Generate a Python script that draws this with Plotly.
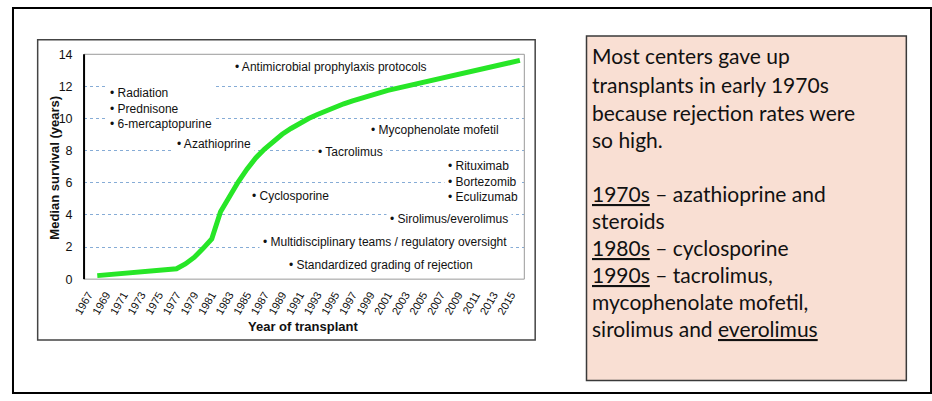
import plotly.graph_objects as go

W, H = 932, 401

years = list(range(1968, 2017))
survival = [0.22, 0.27, 0.31, 0.36, 0.41, 0.46, 0.50, 0.54, 0.58, 0.65, 0.95, 1.35, 1.90, 2.50,
            4.20, 5.15, 6.05, 6.85, 7.55, 8.10, 8.60, 9.02, 9.38, 9.72, 10.00, 10.25, 10.50,
            10.72, 10.92, 11.10, 11.28, 11.45, 11.60, 11.75, 11.88, 12.00, 12.12, 12.25, 12.38,
            12.50, 12.62, 12.75, 12.87, 13.00, 13.12, 13.25, 13.38, 13.50, 13.62]

tick_years = list(range(1967, 2016, 2))
y_ticks = list(range(0, 15, 2))

milestones = [
    ("• Antimicrobial prophylaxis protocols", 323, 62, "center"),
    ("• Radiation<br>• Prednisone<br>• 6-mercaptopurine", 151, 105, "left"),
    ("• Azathioprine", 205, 142, "center"),
    ("• Tacrolimus", 343, 150, "center"),
    ("• Mycophenolate mofetil", 429, 127, "center"),
    ("• Rituximab<br>• Bortezomib<br>• Eculizumab", 477, 181, "left"),
    ("• Cyclosporine", 282, 196, "center"),
    ("• Sirolimus/everolimus", 443, 220, "center"),
    ("• Multidisciplinary teams / regulatory oversight", 378, 244, "center"),
    ("• Standardized grading of rejection", 374, 267, "center"),
]

note_lines = [
    ("Most centers gave up", 50),
    ("transplants in early 1970s", 80),
    ("because rejection rates were", 109),
    ("so high.", 137),
    ("<span style='text-decoration:underline'>1970s</span> – azathioprine and", 193),
    ("steroids", 221),
    ("<span style='text-decoration:underline'>1980s</span> – cyclosporine", 249),
    ("<span style='text-decoration:underline'>1990s</span> – tacrolimus,", 277),
    ("mycophenolate mofetil,", 305),
    ("sirolimus and <span style='text-decoration-line:underline;text-decoration-style:wavy;"
     "text-decoration-color:#d02020'>everolimus</span>", 333),
]

px = lambda x: x / W
py = lambda y: 1 - y / H

PL, PR, PT, PB = 73, 519, 49, 282
ARIAL = "Arial, Liberation Sans, sans-serif"

fig = go.Figure()
fig.add_trace(go.Scatter(x=years, y=survival, mode="lines",
                         line=dict(color="#27e627", width=5), hoverinfo="skip"))

shapes = [
    dict(type="rect", xref="paper", yref="paper", x0=px(1), x1=px(931), y0=py(400), y1=py(1),
         line=dict(color="#000", width=2), layer="below"),
    dict(type="rect", xref="paper", yref="paper", x0=px(26), x1=px(530), y0=py(345), y1=py(34),
         line=dict(color="#444", width=1.5), fillcolor="white", layer="below"),
    dict(type="rect", xref="paper", yref="paper", x0=px(PL), x1=px(PR), y0=py(PB), y1=py(PT),
         line=dict(color="#9a9a9a", width=1), layer="above"),
    dict(type="line", xref="paper", yref="paper", x0=px(PL), x1=px(PL), y0=py(PB), y1=py(PT),
         line=dict(color="#000", width=2), layer="above"),
    dict(type="rect", xref="paper", yref="paper", x0=px(582), x1=px(906), y0=py(387), y1=py(30),
         line=dict(color="#3a3a3a", width=1.5), fillcolor="#f9dfd3", layer="below"),
]

annotations = []
for text, x, y, align in milestones:
    annotations.append(dict(text=text, xref="paper", yref="paper", x=px(x), y=py(y),
                            xanchor="center", yanchor="middle", align=align, showarrow=False,
                            bgcolor="white", borderpad=3,
                            font=dict(family=ARIAL, size=12, color="#111")))
for text, y in note_lines:
    annotations.append(dict(text=text, xref="paper", yref="paper", x=px(586), y=py(y),
                            xanchor="left", yanchor="middle", align="left", showarrow=False,
                            font=dict(family="Lato, sans-serif", size=21, color="#111")))
annotations.append(dict(text="<b>Year of transplant</b>", xref="paper", yref="paper",
                        x=px(295), y=py(331), xanchor="center", yanchor="middle", showarrow=False,
                        font=dict(family=ARIAL, size=13, color="#111")))
annotations.append(dict(text="<b>Median survival (years)</b>", xref="paper", yref="paper",
                        x=px(43), y=py(166), xanchor="center", yanchor="middle", showarrow=False,
                        textangle=-90,
                        font=dict(family=ARIAL, size=13, color="#111")))

fig.update_layout(
    width=W, height=H, margin=dict(l=0, r=0, t=0, b=0),
    paper_bgcolor="white", plot_bgcolor="#d5ebf4", showlegend=False,
    shapes=shapes, annotations=annotations,
    xaxis=dict(domain=[px(PL), px(PR)], range=[1966.5, 2016.5], tickmode="array",
               tickvals=tick_years, ticktext=[str(t) for t in tick_years], tickangle=-60,
               showgrid=False, zeroline=False, showline=False, ticks="outside", ticklen=4,
               tickcolor="rgba(0,0,0,0)",
               tickfont=dict(family=ARIAL, size=11, color="#111")),
    yaxis=dict(domain=[py(PB), py(PT)], range=[0, 14], tickmode="array", tickvals=y_ticks,
               showgrid=True, gridcolor="#86acd6", griddash="dot", gridwidth=1,
               zeroline=False, showline=False, ticks="outside", ticklen=8,
               tickcolor="rgba(0,0,0,0)",
               tickfont=dict(family=ARIAL, size=12.5, color="#111")),
)

fig.write_html("out.html")
